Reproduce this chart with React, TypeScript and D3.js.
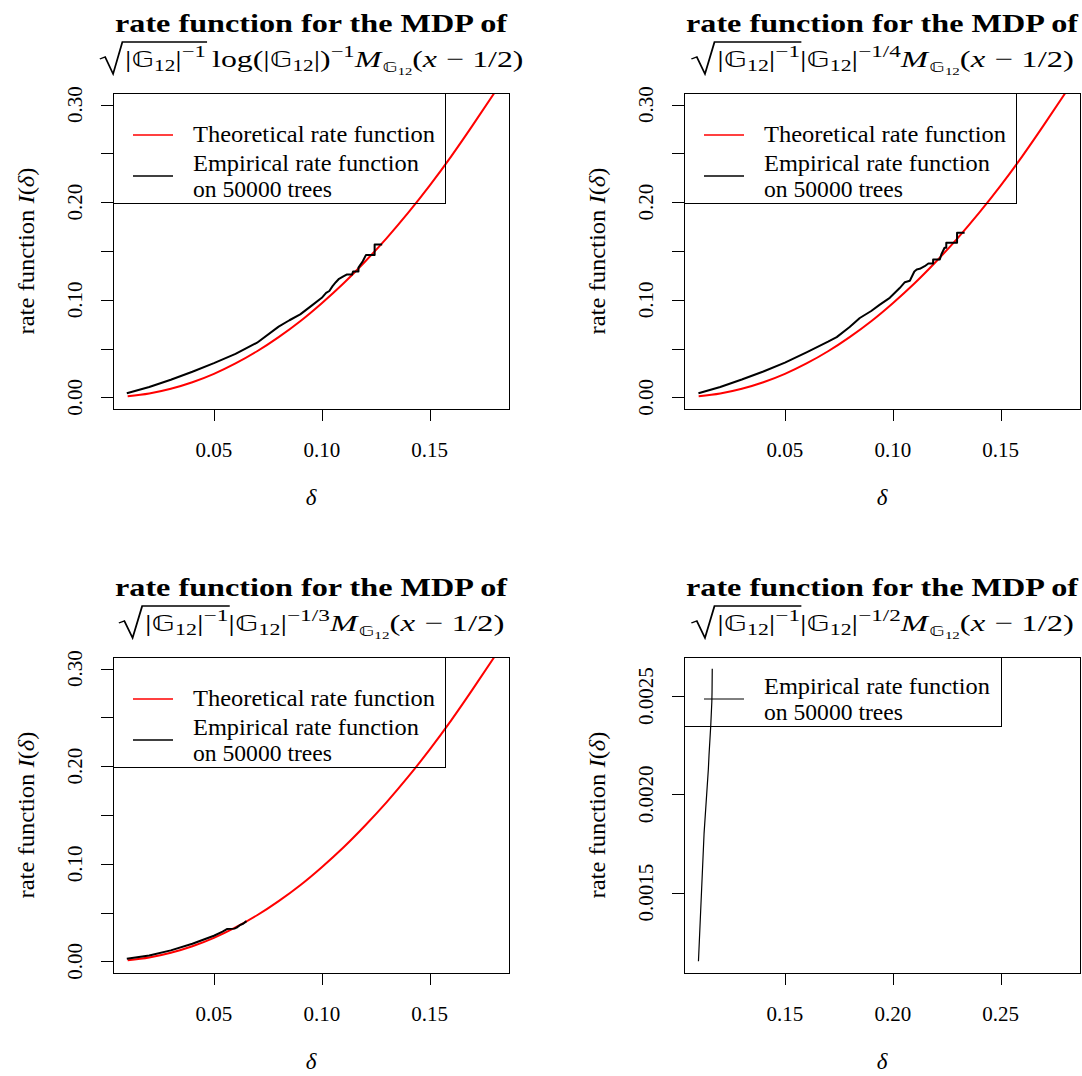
import React, { useEffect, useRef } from 'react';
import * as d3 from 'd3';

const W = 1082;
const H = 1076;

// theoretical rate function (red curve)
const thDelta = [0.01, 0.02, 0.03, 0.04, 0.05, 0.06, 0.07, 0.08, 0.09, 0.10, 0.11, 0.12, 0.13, 0.14, 0.15, 0.16, 0.17, 0.18];
const thRate = [0.001, 0.0039, 0.0087, 0.0154, 0.024, 0.0347, 0.0472, 0.0617, 0.078, 0.0965, 0.1167, 0.139, 0.163, 0.189, 0.217, 0.247, 0.279, 0.312];

// empirical rate functions on 50000 trees (black lines)
const emp1Delta = [0.0096, 0.02, 0.03, 0.04, 0.05, 0.06, 0.07, 0.08, 0.085, 0.09, 0.095, 0.10, 0.102, 0.1035, 0.105, 0.1065, 0.108, 0.11, 0.1115, 0.114, 0.1145, 0.117, 0.117, 0.119, 0.1205, 0.1245, 0.1245, 0.128];
const emp1Rate = [0.0041, 0.0105, 0.018, 0.0262, 0.035, 0.0445, 0.056, 0.0725, 0.079, 0.085, 0.0935, 0.102, 0.107, 0.109, 0.114, 0.118, 0.1215, 0.124, 0.1258, 0.1258, 0.129, 0.129, 0.133, 0.1395, 0.146, 0.146, 0.1567, 0.1567];

const emp2Delta = [0.0099, 0.02, 0.03, 0.04, 0.05, 0.06, 0.07, 0.074, 0.08, 0.0847, 0.09, 0.094, 0.0986, 0.1032, 0.1056, 0.1079, 0.11, 0.1111, 0.1125, 0.1148, 0.1165, 0.1187, 0.1187, 0.1218, 0.1225, 0.124, 0.1248, 0.1248, 0.1298, 0.1298, 0.1333];
const emp2Rate = [0.0041, 0.0105, 0.0182, 0.0265, 0.0356, 0.046, 0.057, 0.0617, 0.072, 0.0813, 0.0885, 0.095, 0.102, 0.112, 0.118, 0.1195, 0.129, 0.131, 0.1317, 0.1344, 0.1372, 0.1372, 0.1413, 0.1413, 0.1464, 0.1533, 0.1533, 0.1584, 0.1584, 0.1687, 0.1687];

const emp3Delta = [0.0096, 0.02, 0.03, 0.04, 0.05, 0.054, 0.056, 0.0595, 0.0605, 0.062, 0.0635, 0.0651];
const emp3Rate = [0.0025, 0.006, 0.0112, 0.018, 0.0262, 0.0305, 0.033, 0.0335, 0.0345, 0.037, 0.0385, 0.0412];

const emp4Delta = [0.1099, 0.1125, 0.1145, 0.1148, 0.1156, 0.1161, 0.1162, 0.1163];
const emp4Rate = [0.00115, 0.0018, 0.00213, 0.0022, 0.00235, 0.00247, 0.00252, 0.00264];

// axis ticks and labels
const xTicksA = [0.05, 0.10, 0.15];
const xTicksD = [0.15, 0.20, 0.25];
const yTicksA = [0, 0.05, 0.10, 0.15, 0.20, 0.25, 0.30];
const yLabelsA = ['0.00', '', '0.10', '', '0.20', '', '0.30'];
const yTicksD = [0.0015, 0.002, 0.0025];
const yLabelsD = ['0.0015', '0.0020', '0.0025'];

const exponents = ['log', '−1/4', '−1/3', '−1/2'];
const legendTheory = 'Theoretical rate function';
const legendEmp = ['Empirical rate function', 'on 50000 trees'];

const SERIF = "'Liberation Serif', 'Times New Roman', Times, serif";
const BB = "'DejaVu Sans', 'DejaVu Serif', sans-serif";
const G = '\u{1D53E}';

const L = 113, R = 509, T = 93, B = 409;
const offsets = [[0, 0], [571, 0], [0, 564], [571, 564]];

const ext = (r: number[]) => [r[0] - 0.04 * (r[1] - r[0]), r[1] + 0.04 * (r[1] - r[0])];

type Seg = { t: string; k?: 'sup' | 'sub' | 'ss' | 'msub'; it?: boolean; bb?: boolean; rs?: boolean; re?: boolean };

function mathSegs(e: string): Seg[] {
  const s: Seg[] = [
    { t: '|', rs: true }, { t: G, bb: true }, { t: '12', k: 'sub' }, { t: '|' }, { t: '−1', k: 'sup', re: true },
  ];
  if (e === 'log') {
    s.push({ t: '\u2009log(|' }, { t: G, bb: true }, { t: '12', k: 'sub' }, { t: '|)' }, { t: '−1', k: 'sup' });
  } else {
    s.push({ t: '|' }, { t: G, bb: true }, { t: '12', k: 'sub' }, { t: '|' }, { t: e, k: 'sup' });
  }
  s.push({ t: 'M', it: true }, { t: G, k: 'msub', bb: true }, { t: '12', k: 'ss' }, { t: '(' }, { t: 'x', it: true }, { t: ' − 1/2)' });
  return s;
}

function drawMath(g: any, segs: Seg[], cx: number, baseline: number, target: number) {
  const m = g.append('g');
  let cur = 20;
  let r1 = 0;
  segs.forEach((s) => {
    let size = 24, dy = 0;
    if (s.k === 'sup') { size = 17; dy = -10; }
    if (s.k === 'sub') { size = 16; dy = 4; }
    if (s.k === 'msub') { size = 16; dy = 5; }
    if (s.k === 'ss') { size = 11; dy = 8; }
    const t = m.append('text')
      .attr('x', cur).attr('y', dy)
      .attr('font-family', s.bb ? BB : SERIF)
      .attr('font-size', s.bb ? size * 0.92 : size)
      .attr('font-style', s.it ? 'italic' : 'normal')
      .style('white-space', 'pre')
      .text(s.t);
    const w = (t.node() as SVGTextElement).getComputedTextLength();
    cur += w + (s.it ? 1 : 0);
    if (s.re) r1 = cur + 1;
  });
  m.append('path')
    .attr('d', `M1,-8L5,-10L11,7L18,-25L${r1},-25`)
    .attr('fill', 'none').attr('stroke', 'black').attr('stroke-width', 1.3);
  const sc = target / cur;
  m.attr('transform', `translate(${cx - target / 2},${baseline}) scale(${sc},1)`);
}

const panels = [
  { emp: [emp1Delta, emp1Rate], theory: true, xr: [0.01, 0.18], yr: [0, 0.3], xt: xTicksA, yt: yTicksA, yl: yLabelsA, lw: 2, tw: 425 },
  { emp: [emp2Delta, emp2Rate], theory: true, xr: [0.01, 0.18], yr: [0, 0.3], xt: xTicksA, yt: yTicksA, yl: yLabelsA, lw: 2, tw: 384 },
  { emp: [emp3Delta, emp3Rate], theory: true, xr: [0.01, 0.18], yr: [0, 0.3], xt: xTicksA, yt: yTicksA, yl: yLabelsA, lw: 2, tw: 387 },
  { emp: [emp4Delta, emp4Rate], theory: false, xr: [0.11, 0.28], yr: [0.00115, 0.00264], xt: xTicksD, yt: yTicksD, yl: yLabelsD, lw: 1.2, tw: 384 },
];

export default function App() {
  const ref = useRef<SVGSVGElement>(null);

  useEffect(() => {
    const svg = d3.select(ref.current);
    svg.selectAll('*').remove();
    svg.append('rect').attr('width', W).attr('height', H).attr('fill', 'white');

    panels.forEach((p, i) => {
      const [dx, dy] = offsets[i];
      const g = svg.append('g').attr('transform', `translate(${dx},${dy})`);
      const x = d3.scaleLinear().domain(ext(p.xr)).range([L, R]);
      const y = d3.scaleLinear().domain(ext(p.yr)).range([B, T]);
      const line = d3.line<[number, number]>().x(d => x(d[0])).y(d => y(d[1]));

      const clipId = `clip-${i}`;
      g.append('clipPath').attr('id', clipId)
        .append('rect').attr('x', L).attr('y', T).attr('width', R - L).attr('height', B - T);

      if (p.theory) {
        g.append('path')
          .datum(d3.zip(thDelta, thRate) as [number, number][])
          .attr('d', line.curve(d3.curveNatural))
          .attr('clip-path', `url(#${clipId})`)
          .attr('fill', 'none').attr('stroke', '#ff0000').attr('stroke-width', 2);
      }
      g.append('path')
        .datum(d3.zip(p.emp[0], p.emp[1]) as [number, number][])
        .attr('d', line.curve(d3.curveLinear))
        .attr('clip-path', `url(#${clipId})`)
        .attr('fill', 'none').attr('stroke', 'black').attr('stroke-width', p.lw)
        .attr('stroke-linejoin', 'round');

      // plot box
      g.append('rect').attr('x', L + 0.5).attr('y', T + 0.5).attr('width', R - L).attr('height', B - T)
        .attr('fill', 'none').attr('stroke', 'black').attr('stroke-width', 1);

      // x axis
      const xa = g.append('g').attr('stroke', 'black').attr('stroke-width', 1);
      xa.append('line').attr('x1', x(p.xt[0])).attr('x2', x(p.xt[p.xt.length - 1]))
        .attr('y1', B + 0.5).attr('y2', B + 0.5);
      p.xt.forEach((v) => {
        xa.append('line').attr('x1', Math.round(x(v)) + 0.5).attr('x2', Math.round(x(v)) + 0.5)
          .attr('y1', B).attr('y2', B + 12);
        g.append('text').attr('x', x(v)).attr('y', B + 48)
          .attr('text-anchor', 'middle').attr('font-family', SERIF).attr('font-size', 21)
          .text(d3.format('.2f')(v));
      });

      // y axis
      const ya = g.append('g').attr('stroke', 'black').attr('stroke-width', 1);
      ya.append('line').attr('y1', y(p.yt[0])).attr('y2', y(p.yt[p.yt.length - 1]))
        .attr('x1', L + 0.5).attr('x2', L + 0.5);
      p.yt.forEach((v, j) => {
        const yy = Math.round(y(v)) + 0.5;
        ya.append('line').attr('x1', L - 12).attr('x2', L).attr('y1', yy).attr('y2', yy);
        if (p.yl[j]) {
          g.append('text').attr('transform', `translate(82,${y(v)}) rotate(-90)`)
            .attr('text-anchor', 'middle').attr('font-family', SERIF).attr('font-size', 21)
            .text(p.yl[j]);
        }
      });

      // axis titles
      g.append('text').attr('x', (L + R) / 2).attr('y', B + 96)
        .attr('text-anchor', 'middle').attr('font-family', SERIF).attr('font-size', 23)
        .attr('font-style', 'italic').text('δ');
      const yt = g.append('text').attr('transform', `translate(34,${(T + B) / 2}) rotate(-90)`)
        .attr('text-anchor', 'middle').attr('font-family', SERIF).attr('font-size', 23)
        .style('white-space', 'pre').attr('textLength', 167).attr('lengthAdjust', 'spacingAndGlyphs');
      yt.append('tspan').text('rate function ');
      yt.append('tspan').attr('font-style', 'italic').text('I');
      yt.append('tspan').text('(');
      yt.append('tspan').attr('font-style', 'italic').text('δ');
      yt.append('tspan').text(')');

      // legend
      const lg = g.append('g');
      const lh = p.theory ? 110 : 69;
      const lw = p.theory ? 332 : 317;
      lg.append('rect').attr('x', L + 0.5).attr('y', T + 0.5).attr('width', lw).attr('height', lh)
        .attr('fill', 'none').attr('stroke', 'black').attr('stroke-width', 1);
      const base = p.theory ? T + 41 : T;
      if (p.theory) {
        lg.append('line').attr('x1', L + 20).attr('x2', L + 60).attr('y1', T + 42).attr('y2', T + 42)
          .attr('stroke', '#ff0000').attr('stroke-width', 1.5);
        lg.append('text').attr('x', L + 80).attr('y', T + 49).attr('font-family', SERIF).attr('font-size', 23)
          .attr('textLength', 242).attr('lengthAdjust', 'spacingAndGlyphs').text(legendTheory);
      }
      lg.append('line').attr('x1', L + 20).attr('x2', L + 60).attr('y1', base + 42).attr('y2', base + 42)
        .attr('stroke', 'black').attr('stroke-width', p.theory ? 1.5 : 1);
      lg.append('text').attr('x', L + 80).attr('y', base + 37).attr('font-family', SERIF).attr('font-size', 23)
        .attr('textLength', 226).attr('lengthAdjust', 'spacingAndGlyphs').text(legendEmp[0]);
      lg.append('text').attr('x', L + 80).attr('y', base + 63).attr('font-family', SERIF).attr('font-size', 23)
        .attr('textLength', 139).attr('lengthAdjust', 'spacingAndGlyphs').text(legendEmp[1]);

      // title
      g.append('text').attr('x', (L + R) / 2).attr('y', 32)
        .attr('text-anchor', 'middle').attr('font-family', SERIF).attr('font-size', 26).attr('font-weight', 'bold')
        .attr('textLength', 392).attr('lengthAdjust', 'spacingAndGlyphs')
        .text('rate function for the MDP of');
      drawMath(g, mathSegs(exponents[i]), (L + R) / 2, 67, p.tw);
    });
  }, []);

  return (
    <svg ref={ref} width={W} height={H} style={{ position: 'absolute', left: 0, top: 0, display: 'block' }} />
  );
}
